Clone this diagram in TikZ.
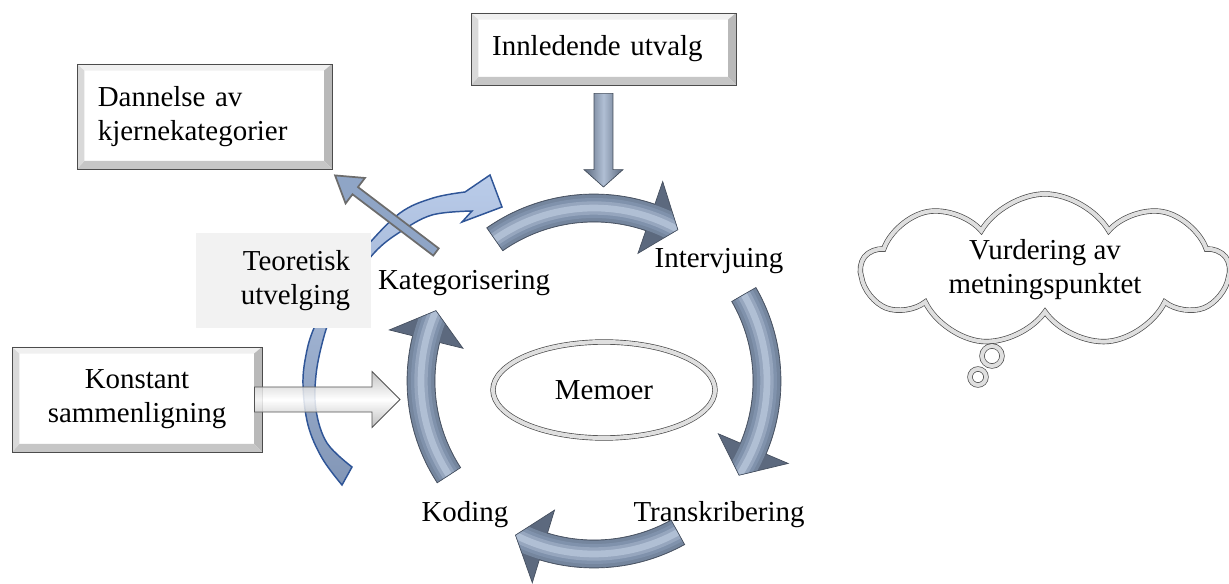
\documentclass[tikz,border=0pt]{standalone}
\usepackage{fontspec}
\setmainfont{Liberation Serif}
\usetikzlibrary{calc,shapes.geometric,shapes.symbols}
\usepackage{xcolor}
\definecolor{steeldark}{RGB}{92,105,126}
\definecolor{steelmid}{RGB}{128,146,172}
\definecolor{steellight}{RGB}{176,191,212}
\definecolor{tvtop}{RGB}{186,204,234}
\definecolor{tvbot}{RGB}{130,150,182}
\definecolor{tvbord}{RGB}{47,85,151}
\definecolor{grayarr}{RGB}{143,165,198}
\definecolor{teorbg}{RGB}{242,242,242}
\newcommand{\cycx}{594}
\newcommand{\cycy}{381}
\newcommand{\cycr}{173}
% ring arrow: tail angle, head base angle, tip angle (clockwise)
\newcommand{\ringarrow}[3]{%
  \path[ringbody, path picture={
      \foreach \lw/\col in {20pt/steelmid!70!steeldark, 15pt/steelmid,
                            10pt/steelmid!55!steellight, 5pt/steellight}
        \draw[line width=\lw,\col] plot[domain=#1:#3,samples=30]
          ({\cycx+\cycr*cos(\x)},{\cycy-\cycr*sin(\x)});}]
    plot[domain=#1:#2,samples=30]
      ({\cycx+(\cycr+14)*cos(\x)},{\cycy-(\cycr+14)*sin(\x)})
    -- ({\cycx+(\cycr+38)*cos(#2)},{\cycy-(\cycr+38)*sin(#2)})
    -- ({\cycx+\cycr*cos(#3)},{\cycy-\cycr*sin(#3)})
    -- ({\cycx+(\cycr-38)*cos(#2)},{\cycy-(\cycr-38)*sin(#2)})
    -- plot[domain=#2:#1,samples=30]
      ({\cycx+(\cycr-14)*cos(\x)},{\cycy-(\cycr-14)*sin(\x)})
    -- cycle;}
% block arrow: style, from, to, shaft half width, head half width, head length
\newcommand{\blockarrow}[6]{%
  \coordinate (ba-base) at ($(#3)!#6!(#2)$);
  \path[#1] ($(#2)!#4!90:(#3)$) -- ($(ba-base)!#4!90:(#3)$)
    -- ($(ba-base)!#5!90:(#3)$) -- (#3)
    -- ($(ba-base)!#5!-90:(#3)$) -- ($(ba-base)!#4!-90:(#3)$)
    -- ($(#2)!#4!-90:(#3)$) -- cycle;}

\begin{document}
\begin{tikzpicture}[x=0.75pt, y=-0.75pt,
  font=\fontsize{21.7}{25.5}\selectfont,
  lbl/.style={anchor=base, inner sep=0pt},
  bevelbox/.style={draw=gray!60!black, line width=0.6pt, fill=white,
    path picture={
      \path (path picture bounding box.north west) coordinate (bv1)
            (path picture bounding box.north east) coordinate (bv2)
            (path picture bounding box.south east) coordinate (bv3)
            (path picture bounding box.south west) coordinate (bv4);
      \path ([shift={(5.5pt,-5pt)}]bv1) coordinate (bi1)
            ([shift={(-6pt,-5pt)}]bv2) coordinate (bi2)
            ([shift={(-6pt,6pt)}]bv3) coordinate (bi3)
            ([shift={(5.5pt,6pt)}]bv4) coordinate (bi4);
      \fill[gray!12] (bv1) -- (bv2) -- (bi2) -- (bi1) -- cycle;
      \fill[gray!55] (bv2) -- (bv3) -- (bi3) -- (bi2) -- cycle;
      \fill[gray!45] (bv3) -- (bv4) -- (bi4) -- (bi3) -- cycle;
      \fill[gray!30] (bv4) -- (bv1) -- (bi1) -- (bi4) -- cycle;}},
  ringbody/.style={fill=steeldark, draw=steeldark!75!black, line width=0.5pt},
  tvarrow/.style={top color=tvtop, bottom color=tvbot, draw=tvbord, line width=1.1pt},
  downarr/.style={left color=steeldark, right color=steeldark, middle color=steellight,
    draw=steeldark!70!black, line width=0.5pt},
  grayarrow/.style={fill=grayarr, draw=gray!85!black, line width=1.3pt},
  whitearr/.style={top color=gray!55, bottom color=gray!60, middle color=white,
    draw=gray!65!black, line width=0.6pt, fill opacity=0.85},
  thought/.style={fill=white, draw=gray!55!black, line width=0.5pt,
    double=gray!25, double distance=3pt}
]
\useasboundingbox (0,0) rectangle (1229,584);

%% ── Teoretisk utvelging arrow (behind) ──────────────────────────────────────
\path[tvarrow]
  plot[smooth, tension=0.6] coordinates {(342,485) (322,458) (308,425) (303,385)
    (306,355) (314,328) (335,285) (365,248) (400,213) (433,198) (465,192)}
  -- (490,175) -- (502,207) -- (462,222) -- (472,211)
  -- plot[smooth, tension=0.6] coordinates {(472,211) (432,215) (400,232)
    (375,252) (350,285) (332,315) (323,340) (316,375) (316,410) (327,443) (352,467)}
  -- cycle;

%% ── Boxes ───────────────────────────────────────────────────────────────────
\node[bevelbox, minimum width=198.75pt, minimum height=54pt, text width=167pt,
  align=left] (innl) at (603.5,49) {Innledende utvalg};
\node[bevelbox, minimum width=191.25pt, minimum height=78.75pt, text width=160pt,
  align=left] (dann) at (204.5,116.5) {Dannelse av\\kjernekategorier};
\node[bevelbox, minimum width=187.5pt, minimum height=78.75pt, text width=170pt,
  align=center] (kons) at (137,399.5) {Konstant\\sammenligning};
\node[fill=teorbg, minimum width=131.25pt, minimum height=71.25pt, text width=100pt,
  align=right] (teor) at (283.5,280.5) {Teoretisk\\utvelging};

%% ── Labels round the cycle ──────────────────────────────────────────────────
\node[lbl] (kat)   at (464,290) {Kategorisering};
\node[lbl] (intv)  at (719,268) {Intervjuing};
\node[lbl] (trans) at (719,522) {Transkribering};
\node[lbl] (kod)   at (465,522) {Koding};

%% ── Straight arrows ─────────────────────────────────────────────────────────
\coordinate (innl-out) at ([yshift=-6pt]innl.south);
\coordinate (cyc-top)  at (603.5,187);
\coordinate (kat-out)  at (436,252);
\coordinate (dann-in)  at ([shift={(2pt,-4.5pt)}]dann.south east);
\coordinate (kons-out) at ([xshift=-6pt]kons.east);
\coordinate (kat-in)   at (400,399.5);

\blockarrow{downarr}{innl-out}{cyc-top}{7.1pt}{14.6pt}{13pt}
\blockarrow{grayarrow}{kat-out}{dann-in}{3.4pt}{12pt}{19pt}
\blockarrow{whitearr}{kons-out}{kat-in}{9.4pt}{21pt}{21pt}

%% ── Cycle ───────────────────────────────────────────────────────────────────
\ringarrow{125}{71}{61}
\ringarrow{30}{-23}{-33}
\ringarrow{-61}{-107}{-117}
\ringarrow{-147}{-194}{-204}

\node[thought, ellipse, minimum width=166.5pt, minimum height=72pt] (memo)
  at (604,390) {Memoer};

%% ── Thought cloud ───────────────────────────────────────────────────────────
\node[thought, cloud, cloud puffs=9, cloud puff arc=120, aspect=2.8,
  minimum width=275pt, minimum height=97pt, align=center] (vurd)
  at (1045,270) {Vurdering av\\metningspunktet};
\node[thought, circle, minimum size=15pt, inner sep=0pt] (bub1) at (992,356) {};
\node[thought, circle, minimum size=12pt, inner sep=0pt] (bub2) at (978,377) {};

\end{tikzpicture}
\end{document}
